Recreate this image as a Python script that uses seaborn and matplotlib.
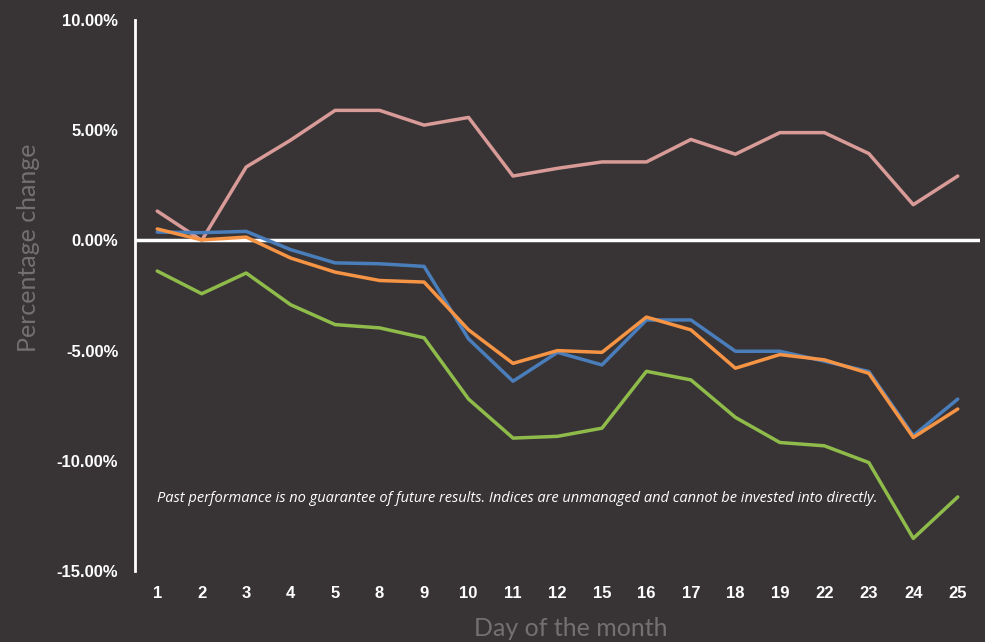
import matplotlib
matplotlib.use("Agg")
import matplotlib.pyplot as plt
import seaborn as sns
import pandas as pd
from matplotlib.ticker import FuncFormatter

days = ["1", "2", "3", "4", "5", "8", "9", "10", "11", "12", "15", "16",
        "17", "18", "19", "22", "23", "24", "25"]

pink = [1.33, 0.0, 3.33, 4.55, 5.9, 5.9, 5.23, 5.58, 2.92, 3.27, 3.56, 3.56,
        4.58, 3.91, 4.89, 4.89, 3.94, 1.62, 2.92]
blue = [0.38, 0.35, 0.41, -0.42, -1.02, -1.06, -1.18, -4.47, -6.39, -5.08, -5.65, -3.61,
        -3.61, -5.03, -5.03, -5.48, -5.95, -8.86, -7.2]
orange = [0.52, 0.02, 0.15, -0.8, -1.44, -1.82, -1.89, -4.06, -5.58, -5.0, -5.08, -3.48,
          -4.06, -5.8, -5.18, -5.42, -6.03, -8.94, -7.65]
green = [-1.39, -2.42, -1.48, -2.92, -3.82, -3.97, -4.42, -7.2, -8.97, -8.89, -8.52, -5.94,
         -6.33, -8.03, -9.17, -9.32, -10.08, -13.52, -11.64]

series_names = ["Pink", "Blue", "Orange", "Green"]
series_values = [pink, blue, orange, green]
palette = {"Pink": "#d99b98", "Blue": "#4a7ebb", "Orange": "#f69445", "Green": "#8fbb4b"}

y_ticks = [10, 5, 0, -5, -10, -15]
note = ("Past performance is no guarantee of future results. "
        "Indices are unmanaged and cannot be invested into directly.")

rows = []
for name, vals in zip(series_names, series_values):
    for d, v in zip(days, vals):
        rows.append({"day": d, "value": v, "series": name})
df = pd.DataFrame(rows)

bg = "#383435"
sns.set_theme(style="dark")
plt.rcParams["font.family"] = ["Liberation Sans", "DejaVu Sans"]

fig = plt.figure(figsize=(9.85, 6.42), dpi=100, facecolor=bg)
ax = fig.add_axes([135 / 985, (642 - 571) / 642, (980 - 135) / 985, (571 - 20) / 642])
ax.set_facecolor(bg)

sns.lineplot(data=df, x="day", y="value", hue="series", palette=palette,
             sort=False, linewidth=2.5, ax=ax, legend=False)

ax.axhline(0, color="white", lw=2.5, zorder=1)
ax.set_xlim(-0.5, len(days) - 0.5)
ax.set_ylim(-15, 10)
ax.set_yticks(y_ticks)
ax.yaxis.set_major_formatter(FuncFormatter(lambda v, p: f"{v:.2f}%"))
ax.set_xticks(range(len(days)))
ax.set_xticklabels(days)
ax.tick_params(axis="both", length=0, colors="white", labelsize=12)
ax.tick_params(axis="y", pad=12)
ax.tick_params(axis="x", pad=11)
for lbl in ax.get_xticklabels() + ax.get_yticklabels():
    lbl.set_fontweight("bold")
    lbl.set_color("white")
ax.grid(False)
for s in ["top", "right", "bottom"]:
    ax.spines[s].set_visible(False)
ax.spines["left"].set_color("white")
ax.spines["left"].set_linewidth(2)

ax.set_ylabel("Percentage change", color="#747071", fontsize=18,
              family=["Lato", "DejaVu Sans"])
ax.yaxis.set_label_coords(-0.113, 0.587)
ax.set_xlabel("Day of the month", color="#747071", fontsize=18,
              family=["Lato", "DejaVu Sans"])
ax.xaxis.set_label_coords(0.516, -0.083)

ax.text(0, -11.7, note, color="white", fontsize=10.5, style="italic",
        family=["Open Sans", "DejaVu Sans"], ha="left", va="center")

fig.savefig("out.png", dpi=100, facecolor=bg)
